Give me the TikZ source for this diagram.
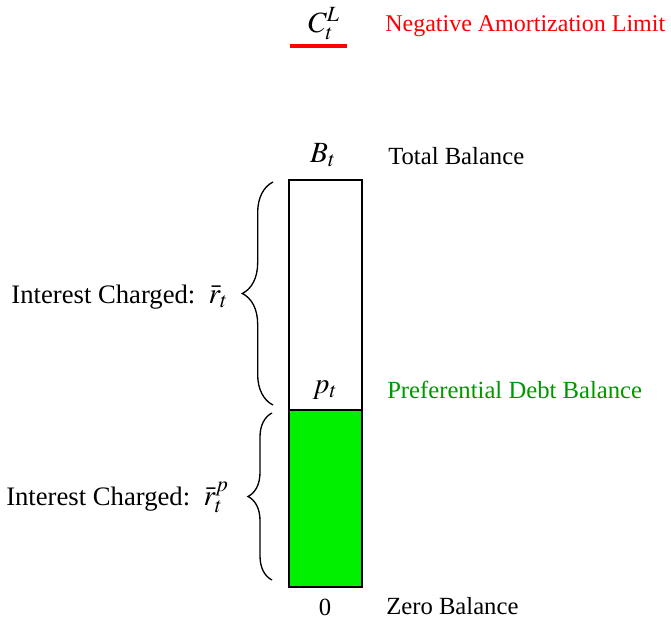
\documentclass[tikz,border=0pt]{standalone}
\usepackage{mathptmx}
\usepackage[no-math]{fontspec}
\setmainfont{Liberation Serif}
\usetikzlibrary{positioning,calc,decorations.pathreplacing}
\definecolor{barfill}{RGB}{0,240,0}
\definecolor{prefgreen}{RGB}{0,150,0}
\newcommand{\ratesym}[1]{{\fontsize{22}{24}\selectfont$#1$}}

\begin{document}
\begin{tikzpicture}[x=0.75pt, y=-0.75pt, font=\fontsize{18.5}{20}\selectfont,
  bar/.style={draw, line width=1.6pt, minimum width=54.75pt, inner sep=0pt,
              outer sep=0pt},
  lbl/.style={anchor=west, inner sep=0pt},
  mth/.style={inner sep=0pt, font=\fontsize{22}{24}\selectfont},
  ratelbl/.style={anchor=east, inner sep=0pt, font=\fontsize{20}{22}\selectfont},
  brc/.style={decorate, decoration={brace, amplitude=#1}, line width=1pt}]
\useasboundingbox (0,0) rectangle (671,620);
% balance bar
\node[bar, minimum height=172.5pt] (upper) at (325.5,295) {};
\node[bar, fill=barfill, minimum height=132.75pt, below=0pt of upper] (lower) {};
% limit
\node[mth] (limit) at (324,24) {$C_t^L$};
\node[lbl, text=red, font=\fontsize{18}{20}\selectfont] (limtxt) at (385,26) {Negative Amortization Limit};
\coordinate (limA) at (290,46);
\coordinate (limB) at (347,46);
\draw[red, line width=2.3pt] (limA) -- (limB);
% levels
\node[mth] (total) at (323,155) {$B_t$};
\node[lbl] (tottxt) at (388,156) {Total Balance};
\node[mth] (pref) at (325,390) {$p_t$};
\node[lbl, text=prefgreen] (preftxt) at (387,390) {Preferential Debt Balance};
\node (zero) at (325,607) {0};
\node[lbl] (zerotxt) at (386,606) {Zero Balance};
% interest braces
\draw[brc=23pt] ($(upper.south west)+(-16,-5)$) -- ($(upper.north west)+(-16,2)$);
\draw[brc=18pt] ($(lower.south west)+(-17,-7)$) -- ($(lower.north west)+(-17,3)$);
\node[ratelbl] (rate) at (228,297) {Interest Charged:\ \ \ratesym{\bar r_t}};
\node[ratelbl] (ratep) at (229,497) {Interest Charged:\ \ \ratesym{\bar r_t^p}};
\end{tikzpicture}
\end{document}
